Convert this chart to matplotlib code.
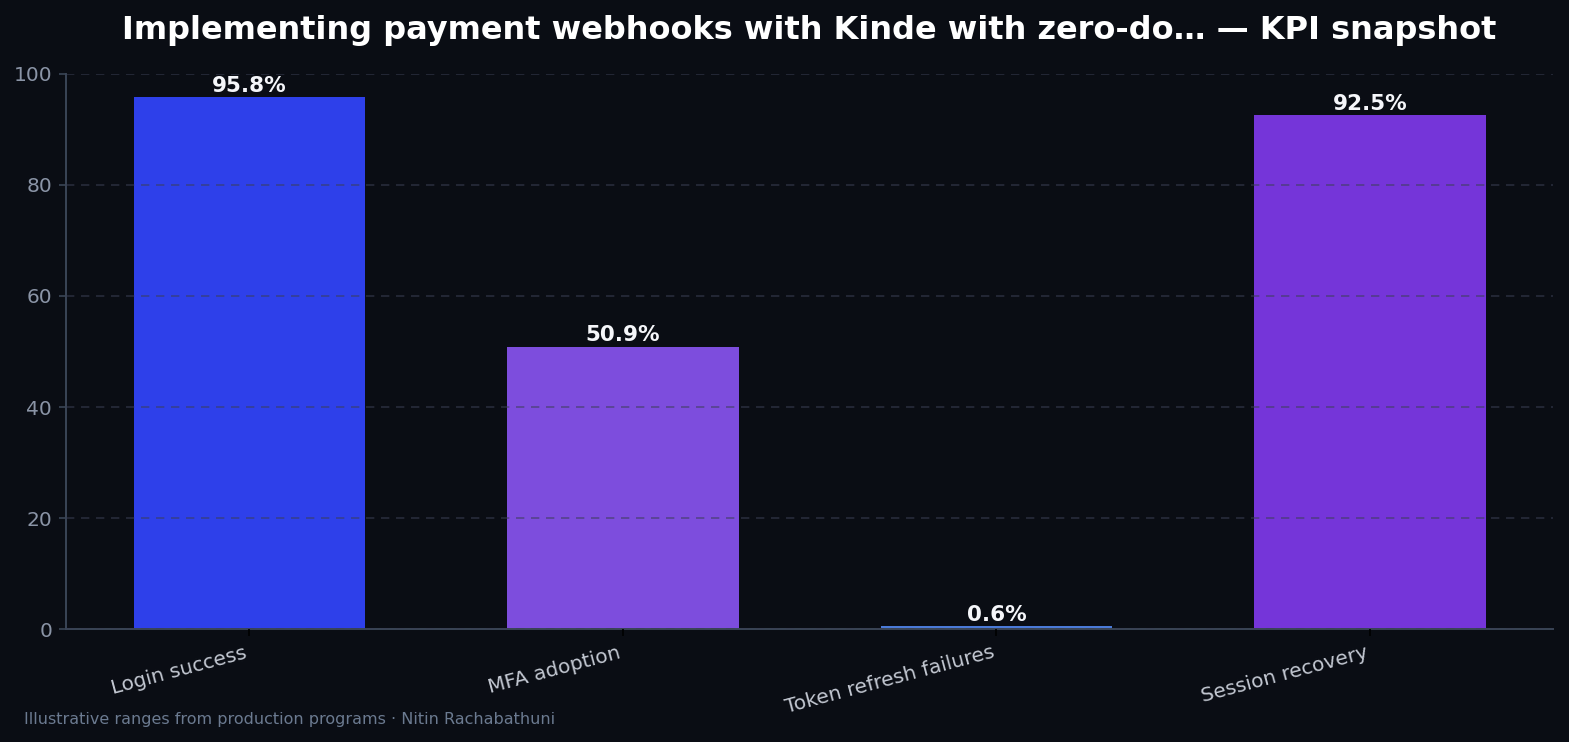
import matplotlib
matplotlib.use("Agg")
import matplotlib.pyplot as plt

categories = ["Login success", "MFA adoption", "Token refresh failures", "Session recovery"]
values = [95.8, 50.9, 0.6, 92.5]
bar_colors = ["#2e40ea", "#7d4ddd", "#4a7ad8", "#7535d9"]

bg = "#0a0d14"

fig, ax = plt.subplots(figsize=(15.69, 7.42), dpi=100)
fig.patch.set_facecolor(bg)
ax.set_facecolor(bg)

bars = ax.bar(categories, values, width=0.62, color=bar_colors, zorder=2)
for b, v in zip(bars, values):
    ax.text(b.get_x() + b.get_width() / 2, b.get_height() + 0.2, f"{v}%",
            ha="center", va="bottom", color="#f5f6fa", fontsize=15.5, fontweight="bold")

ax.set_ylim(0, 100)
ax.grid(axis="y", linestyle="--", color="#3a3f55", alpha=0.6, linewidth=1.2,
        dashes=(5, 4), zorder=3)
ax.set_axisbelow(False)

for s in ["top", "right"]:
    ax.spines[s].set_visible(False)
for s in ["left", "bottom"]:
    ax.spines[s].set_color("#3a4556")
    ax.spines[s].set_linewidth(1.4)

ax.tick_params(axis="y", colors="#3a4556", labelcolor="#8a94a6", labelsize=14.5,
               length=5, width=1.2, pad=5)
ax.tick_params(axis="x", colors="#000000", labelcolor="#c3c8d2", labelsize=14.5,
               length=5, width=1.2, pad=5)
plt.setp(ax.get_xticklabels(), rotation=15, ha="right")

ax.set_title("Implementing payment webhooks with Kinde with zero-do\u2026 \u2014 KPI snapshot",
             color="white", fontsize=23, fontweight="bold", pad=25)

fig.text(0.015, 0.02, "Illustrative ranges from production programs \u00b7 Nitin Rachabathuni",
         color="#6b7a90", fontsize=11.5, ha="left", va="bottom")

fig.subplots_adjust(left=0.042, right=0.99, top=0.9005, bottom=0.152)
fig.savefig("out.png", dpi=100, facecolor=bg)
